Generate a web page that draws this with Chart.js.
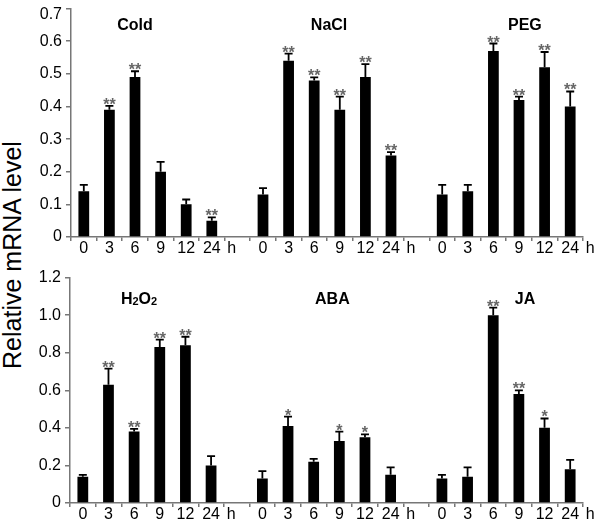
<!DOCTYPE html>
<html><head><meta charset="utf-8">
<script src="https://cdn.jsdelivr.net/npm/chart.js@4.4.1/dist/chart.umd.min.js"></script>
<style>
html,body{margin:0;padding:0;background:#fff;width:597px;height:523px;overflow:hidden;position:relative;}
#c1{position:absolute;left:0;top:-5px;}
#c2{position:absolute;left:0;top:264px;}
#ytitle{position:absolute;left:12px;top:255px;transform:translate(-50%,-50%) rotate(-90deg);font:25px "Liberation Sans",Arial,sans-serif;white-space:nowrap;color:#000;}
</style></head>
<body>
<div id="ytitle">Relative mRNA level</div>
<canvas id="c1" width="597" height="262"></canvas>
<canvas id="c2" width="597" height="259"></canvas>
<script>
// ---- data ----
const timeLabels = ['0','3','6','9','12','24'];
const unitLabel = 'h';

const topTitles = ['Cold','NaCl','PEG'];
const coldValues = [0.14,0.39,0.49,0.20,0.10,0.05];
const coldErrors = [0.02,0.012,0.018,0.03,0.015,0.01];
const coldSig    = ['','**','**','','','**'];
const naclValues = [0.13,0.54,0.48,0.39,0.49,0.25];
const naclErrors = [0.02,0.022,0.009,0.04,0.04,0.01];
const naclSig    = ['','**','**','**','**','**'];
const pegValues  = [0.13,0.14,0.57,0.42,0.52,0.40];
const pegErrors  = [0.03,0.02,0.023,0.01,0.047,0.046];
const pegSig     = ['','','**','**','**','**'];
const topYTicks  = ['0','0.1','0.2','0.3','0.4','0.5','0.6','0.7'];

const bottomTitles = ['H2O2','ABA','JA'];
const h2o2Values = [0.14,0.63,0.38,0.83,0.84,0.20];
const h2o2Errors = [0.01,0.085,0.015,0.04,0.045,0.05];
const h2o2Sig    = ['','**','**','**','**',''];
const abaValues  = [0.13,0.41,0.22,0.33,0.35,0.15];
const abaErrors  = [0.04,0.05,0.015,0.05,0.015,0.04];
const abaSig     = ['','*','','*','*',''];
const jaValues   = [0.13,0.14,1.00,0.58,0.40,0.18];
const jaErrors   = [0.02,0.05,0.04,0.02,0.05,0.05];
const jaSig      = ['','','**','**','*',''];
const bottomYTicks = ['0','0.2','0.4','0.6','0.8','1.0','1.2'];

// ---- helpers ----
function joinGroups(groups, spacer){
  const out = [];
  groups.forEach((g,i)=>{ if(i>0) out.push(spacer); out.push(...g); });
  return out;
}
const FONT = '"Liberation Sans", Arial, sans-serif';
const XPAD = -2;

const annotatePlugin = {
  id:'annotate',
  afterDatasetsDraw(chart){
    const cfg = chart.options.plugins.annotate;
    const ctx = chart.ctx;
    const xs = chart.scales.x, ys = chart.scales.y;
    const meta = chart.getDatasetMeta(0);
    const vals = chart.data.datasets[0].data;
    ctx.save();
    // error bars + significance
    vals.forEach((v,i)=>{
      if(v === null) return;
      const e = cfg.errors[i], s = cfg.sig[i];
      const x = meta.data[i].x;
      const y0 = ys.getPixelForValue(v);
      const y1 = ys.getPixelForValue(v+e);
      ctx.strokeStyle = '#000';
      ctx.lineWidth = 1.8;
      ctx.beginPath();
      ctx.moveTo(x, y0); ctx.lineTo(x, y1);
      ctx.moveTo(x-4, y1); ctx.lineTo(x+4, y1);
      ctx.stroke();
      if(s){
        ctx.fillStyle = '#666';
        ctx.font = 'bold 16px ' + FONT;
        ctx.textAlign = 'center';
        ctx.textBaseline = 'alphabetic';
        ctx.fillText(s, x, y1 + 4);
      }
    });
    // group titles
    cfg.titles.forEach((t,k)=>{
      const cx = xs.getPixelForValue(cfg.titleAt[k]);
      const cy = chart.chartArea.top + cfg.titleDy;
      const parts = t.split('').map(ch=>({ch, sub:/[0-9]/.test(ch)}));
      let w = 0;
      parts.forEach(p=>{ ctx.font = 'bold ' + (p.sub?11:16) + 'px ' + FONT; p.w = ctx.measureText(p.ch).width; w += p.w; });
      let x = cx - w/2;
      ctx.fillStyle = '#000';
      ctx.textAlign = 'left';
      ctx.textBaseline = 'alphabetic';
      parts.forEach(p=>{
        ctx.font = 'bold ' + (p.sub?11:16) + 'px ' + FONT;
        ctx.fillText(p.ch, x, cy + 6 + (p.sub?1:0));
        x += p.w;
      });
    });
    // unit label after each "24"
    ctx.font = '16px ' + FONT;
    ctx.fillStyle = '#000';
    ctx.textAlign = 'center';
    ctx.textBaseline = 'middle';
    chart.data.labels.forEach((l,i)=>{
      if(l === timeLabels[timeLabels.length-1]){
        ctx.fillText(unitLabel, xs.getPixelForValue(i) + 20, xs.top + 4 + XPAD + 9.6);
      }
    });
    // top y tick label shifted down (as in the original figure)
    if(cfg.topShift){
      const last = ys.ticks.length - 1;
      ctx.textAlign = 'right';
      ctx.textBaseline = 'middle';
      ctx.fillText(cfg.yTicks[last], ys.right - 5 - 4, ys.getPixelForValue(ys.ticks[last].value) + cfg.topShift);
    }
    ctx.restore();
  }
};

function makePanel(id, groups, errs, sigs, titles, titleAt, titleDy, yMax, yStep, yTicks, leftW, topShift){
  const labels = joinGroups(groups.map(()=>timeLabels), '');
  const data = joinGroups(groups, null);
  new Chart(document.getElementById(id), {
    type:'bar',
    data:{ labels, datasets:[{ data, backgroundColor:'#000', borderWidth:0, barPercentage:0.42, categoryPercentage:1.0 }]},
    options:{
      responsive:false, animation:false,
      layout:{ padding:{ left:0, right:14, top:0, bottom:0 } },
      plugins:{
        legend:{display:false}, tooltip:{enabled:false},
        annotate:{ errors:joinGroups(errs, 0), sig:joinGroups(sigs,''), titles, titleAt, titleDy, topShift, yTicks }
      },
      scales:{
        x:{
          offset:true,
          grid:{ offset:true, drawOnChartArea:false, drawTicks:true, tickLength:4, color:'#777', lineWidth:1.5 },
          border:{ display:true, color:'#777', width:1.5 },
          ticks:{ autoSkip:false, maxRotation:0, minRotation:0, padding:XPAD, color:'#000', font:{ family:FONT, size:16 } },
          afterFit(s){ s.height = 20; }
        },
        y:{
          min:0, max:yMax,
          grid:{ drawOnChartArea:false, drawTicks:true, tickLength:5, color:'#777', lineWidth:1.5 },
          border:{ display:true, color:'#777', width:1.5 },
          ticks:{ stepSize:yStep, padding:4, font:{ family:FONT, size:16 },
                  color:(c)=> (topShift && c.index === yTicks.length-1) ? 'rgba(0,0,0,0)' : '#000',
                  callback:(v,i)=> yTicks[i] },
          afterFit(s){ s.width = leftW; }
        }
      }
    },
    plugins:[annotatePlugin]
  });
}

makePanel('c1', [coldValues,naclValues,pegValues], [coldErrors,naclErrors,pegErrors], [coldSig,naclSig,pegSig],
  topTitles, [2.0, 9.58, 17.23], 15.5, 0.7, 0.1, topYTicks, 71, 6);
makePanel('c2', [h2o2Values,abaValues,jaValues], [h2o2Errors,abaErrors,jaErrors], [h2o2Sig,abaSig,jaSig],
  bottomTitles, [2.19, 9.73, 17.24], 20, 1.2, 0.2, bottomYTicks, 70, 0);
</script>
</body></html>
